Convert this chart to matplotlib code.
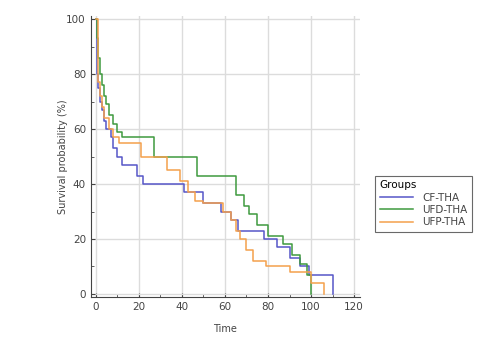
import matplotlib.pyplot as plt
from matplotlib.ticker import MultipleLocator

# Kaplan-Meier step data: times of events and survival (%) after each step
cf_time = [0, 0.5, 1, 2, 3, 4, 5, 7, 8, 10, 12, 19, 22, 41, 50, 58, 63, 66, 78, 84, 90, 95, 99, 101, 110]
cf_surv = [100, 80, 75, 70, 67, 63, 60, 57, 53, 50, 47, 43, 40, 37, 33, 30, 27, 23, 20, 17, 13, 10, 7, 7, 0]

ufd_time = [0, 0.5, 1, 2, 3, 4, 5, 6, 8, 10, 12, 27, 47, 65, 69, 71, 75, 80, 87, 91, 95, 98, 100]
ufd_surv = [100, 93, 86, 80, 76, 72, 69, 65, 62, 59, 57, 50, 43, 36, 32, 29, 25, 21, 18, 14, 11, 7, 0]

ufp_time = [0, 1, 2, 3, 4, 6, 8, 11, 21, 33, 39, 43, 46, 50, 59, 63, 65, 67, 70, 73, 79, 90, 100, 106]
ufp_surv = [100, 77, 72, 68, 64, 60, 57, 55, 50, 45, 41, 37, 34, 33, 30, 27, 23, 20, 16, 12, 10, 8, 4, 0]

groups = ["CF-THA", "UFD-THA", "UFP-THA"]
colors = ["#5656c8", "#3f9a3f", "#f4a04c"]

fig = plt.figure(figsize=(4.88, 3.41), dpi=100)
ax = fig.add_axes([0.186, 0.129, 0.552, 0.824])

for t, s, c, g in zip([cf_time, ufd_time, ufp_time], [cf_surv, ufd_surv, ufp_surv], colors, groups):
    ax.step(t, s, where="post", color=c, linewidth=1.1, label=g)

ax.set_xlim(-2.3, 122.8)
ax.set_ylim(-1.1, 101.1)
ax.xaxis.set_major_locator(MultipleLocator(20))
ax.yaxis.set_major_locator(MultipleLocator(20))
ax.xaxis.set_minor_locator(MultipleLocator(10))
ax.yaxis.set_minor_locator(MultipleLocator(10))
ax.grid(True, which="major", color="#dcdcdc", linewidth=1.0)
ax.set_axisbelow(True)
for side in ("top", "right"):
    ax.spines[side].set_visible(False)
for side in ("left", "bottom"):
    ax.spines[side].set_color("#444444")
ax.tick_params(which="both", direction="in", colors="#444444", labelsize=7.5, labelcolor="#444444")
ax.tick_params(which="major", length=3)
ax.tick_params(which="minor", length=2)

ax.set_xlabel("Time", fontsize=7, color="#444444", labelpad=9)
ax.set_ylabel("Survival probability (%)", fontsize=7, color="#444444", labelpad=-1)

leg = fig.legend(loc="upper left", bbox_to_anchor=(0.758, 0.5), title="Groups",
                 fontsize=7.5, title_fontsize=7.5, frameon=True, fancybox=False,
                 edgecolor="#444444", handlelength=3.2, handletextpad=0.9,
                 borderpad=0.45, labelspacing=0.22, alignment="left")
leg.get_frame().set_linewidth(0.8)
for txt in leg.get_texts():
    txt.set_color("#444444")

fig.savefig("out.png", dpi=100, facecolor="white")
